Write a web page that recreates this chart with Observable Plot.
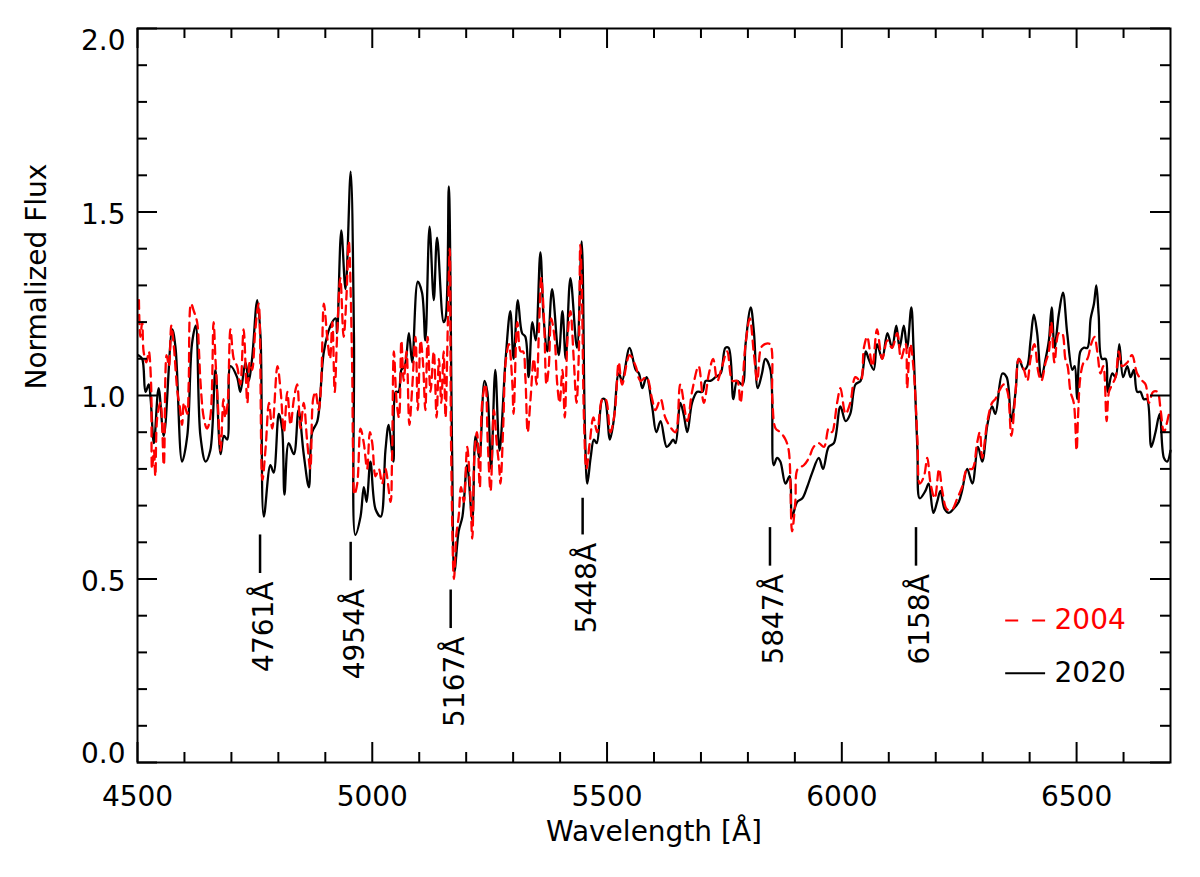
<!DOCTYPE html>
<html><head><meta charset="utf-8">
<script src="https://cdn.jsdelivr.net/npm/d3@7"></script>
<script src="https://cdn.jsdelivr.net/npm/@observablehq/plot@0.6"></script>
<style>body{margin:0;background:#fff} svg{display:block}</style>
</head><body><div id="chart"></div>
<script>
// ---- 2020 spectrum (solid black) ----
const wl2020 = [4502,4510,4517,4524,4528,4535,4545,4556,4574,4581,4595,4606,4616,4624,4634,4645,4655,4666,4677,4684,4691,4698,4712,4719,4730,4737,4744,4755,4762,4769,4783,4790,4801,4808,4813,4822,4833,4843,4854,4865,4872,4883,4897,4911,4922,4925,4934,4943,4954,4961,4964,4975,4982,4988,4996,5007,5018,5028,5035,5045,5050,5056,5062,5069,5078,5085,5097,5106,5113,5122,5131,5138,5152,5156,5163,5170,5175,5184,5192,5202,5213,5220,5228,5239,5245,5253,5262,5271,5284,5294,5301,5310,5319,5326,5333,5341,5348,5358,5365,5373,5383,5397,5405,5412,5422,5436,5446,5453,5458,5465,5472,5478,5490,5495,5506,5514,5525,5532,5548,5561,5568,5575,5584,5596,5605,5614,5627,5635,5641,5646,5656,5663,5671,5681,5692,5703,5710,5720,5731,5742,5752,5759,5769,5777,5788,5795,5806,5813,5821,5830,5837,5848,5855,5862,5869,5880,5889,5894,5905,5916,5926,5937,5951,5960,5972,5983,5997,6008,6018,6029,6040,6051,6057,6068,6075,6086,6097,6107,6116,6123,6132,6139,6148,6153,6161,6166,6178,6185,6195,6203,6210,6219,6228,6237,6249,6256,6267,6278,6290,6299,6310,6320,6327,6342,6351,6361,6370,6377,6388,6395,6402,6409,6416,6425,6434,6441,6447,6453,6462,6471,6480,6491,6496,6501,6508,6515,6523,6530,6537,6542,6547,6554,6562,6566,6576,6583,6591,6599,6608,6615,6622,6629,6636,6643,6650,6659,6668,6677,6686,6693,6700];
const flux2020 = [1.11,1.10,1.01,1.03,0.99,0.87,1.02,0.89,1.18,1.13,0.82,0.89,1.14,1.19,0.89,0.82,0.85,1.07,0.84,0.89,0.88,1.08,1.05,1.01,1.09,1.04,1.10,1.26,1.16,0.67,0.81,0.79,0.95,0.91,0.73,0.87,0.84,0.96,0.84,0.75,0.90,0.93,1.12,1.19,1.21,1.17,1.45,1.29,1.61,1.16,0.62,0.67,0.75,0.71,0.82,0.69,0.67,0.85,0.92,0.82,1.01,1.01,1.07,1.08,1.17,1.09,1.31,1.28,1.15,1.46,1.26,1.43,1.20,1.21,1.57,0.85,0.52,0.63,0.67,0.81,0.66,0.89,0.83,1.04,1.01,0.80,1.07,0.85,1.10,1.23,1.10,1.26,1.17,1.16,1.05,1.20,1.15,1.39,1.21,1.12,1.29,1.11,1.23,1.10,1.32,1.13,1.42,0.90,0.76,0.83,0.88,0.87,0.99,0.99,0.88,0.93,1.06,1.04,1.13,1.07,1.06,1.02,1.05,0.97,0.90,0.93,0.86,0.87,0.88,0.87,0.98,0.95,0.90,0.98,1.01,1.01,1.04,1.04,1.05,1.06,1.13,1.13,0.99,1.04,1.03,1.14,1.24,1.17,1.02,1.06,1.10,1.07,0.81,0.83,0.82,0.76,0.78,0.67,0.71,0.72,0.75,0.79,0.83,0.80,0.86,0.87,0.97,0.93,0.95,1.03,1.04,1.12,1.10,1.07,1.14,1.10,1.17,1.13,1.19,1.13,1.19,1.13,1.24,1.12,0.85,0.72,0.74,0.76,0.68,0.71,0.74,0.69,0.68,0.69,0.71,0.74,0.80,0.76,0.86,0.82,0.92,0.97,0.95,1.06,1.05,0.93,1.01,1.10,1.07,1.08,1.15,1.22,1.17,1.05,1.10,1.15,1.24,1.13,1.22,1.28,1.17,1.07,1.08,0.99,1.12,1.13,1.13,1.21,1.25,1.30,1.22,1.10,1.10,1.01,1.06,1.05,1.14,1.05,1.08,1.05,1.07,1.01,1.01,0.99,0.99,0.86,0.90,0.95,0.83,0.82,0.85];

// ---- 2004 spectrum (dashed red) ----
const wl2004 = [4503,4506,4510,4513,4519,4524,4529,4531,4535,4538,4542,4549,4556,4562,4567,4572,4577,4585,4590,4595,4599,4606,4609,4614,4620,4627,4631,4634,4641,4648,4655,4662,4666,4671,4677,4683,4687,4692,4698,4705,4712,4719,4726,4734,4739,4744,4751,4758,4766,4773,4780,4787,4798,4805,4812,4819,4826,4833,4840,4847,4854,4861,4868,4874,4879,4886,4891,4897,4904,4910,4915,4920,4925,4932,4939,4945,4950,4957,4959,4962,4968,4975,4982,4989,4995,5000,5007,5014,5021,5028,5039,5042,5046,5052,5057,5062,5067,5073,5079,5085,5092,5097,5103,5108,5113,5118,5124,5131,5137,5142,5147,5152,5156,5161,5165,5168,5174,5179,5184,5189,5195,5202,5208,5213,5218,5223,5229,5234,5241,5246,5252,5259,5265,5270,5273,5279,5284,5291,5298,5301,5309,5316,5321,5326,5331,5337,5344,5350,5355,5360,5366,5371,5376,5381,5388,5394,5399,5405,5410,5416,5422,5429,5435,5440,5443,5446,5451,5456,5463,5471,5479,5490,5497,5507,5516,5525,5532,5548,5561,5571,5584,5596,5603,5614,5624,5637,5646,5656,5671,5681,5695,5706,5717,5726,5735,5745,5756,5767,5777,5784,5795,5804,5813,5820,5828,5836,5847,5852,5859,5869,5880,5887,5894,5901,5906,5919,5930,5940,5951,5962,5972,5979,5990,5997,6008,6018,6029,6040,6047,6054,6065,6075,6086,6097,6107,6118,6126,6136,6139,6146,6153,6161,6166,6175,6182,6189,6198,6207,6214,6224,6235,6246,6256,6267,6278,6288,6294,6299,6310,6320,6327,6334,6345,6353,6361,6370,6377,6388,6395,6402,6410,6419,6425,6434,6441,6446,6453,6462,6469,6476,6481,6487,6494,6500,6503,6508,6515,6523,6531,6538,6544,6551,6557,6564,6569,6576,6583,6590,6597,6608,6618,6629,6640,6647,6654,6663,6672,6679,6686,6697,6700];
const flux2004 = [1.26,1.16,1.20,1.12,1.09,1.12,1.03,0.80,0.85,0.78,0.94,0.98,0.81,1.11,1.08,1.19,1.14,1.01,0.97,0.92,0.98,0.95,1.03,1.25,1.23,1.20,1.12,1.04,0.94,0.91,0.94,1.20,1.10,0.98,0.85,0.99,0.94,0.98,1.18,1.10,1.08,1.03,1.18,0.98,1.09,1.07,1.18,1.25,0.77,0.86,0.98,0.91,1.08,1.01,0.90,1.01,0.92,0.99,1.03,0.91,0.98,0.88,0.80,0.99,1.01,0.96,1.03,1.25,1.16,1.10,1.20,1.01,1.16,1.32,1.16,1.27,1.42,1.09,0.85,0.73,0.76,0.91,0.87,0.80,0.90,0.87,0.78,0.80,0.76,0.80,0.71,0.82,1.12,0.98,0.94,1.15,1.04,1.12,0.92,1.02,1.16,0.96,1.15,1.09,0.96,1.16,1.01,1.12,0.94,1.10,0.98,1.12,0.94,1.20,1.40,0.85,0.50,0.62,0.67,0.75,0.71,0.86,0.76,0.61,0.85,0.90,0.75,0.98,1.03,0.87,0.74,0.96,0.87,0.81,0.76,0.92,1.09,1.14,1.04,0.95,1.20,1.12,1.12,1.05,0.90,0.99,1.10,1.03,1.18,1.32,1.20,1.03,1.08,1.21,1.16,1.03,0.98,1.07,0.94,1.16,1.23,1.10,0.98,1.12,1.41,1.31,0.93,0.80,0.87,0.94,0.90,0.99,0.99,0.90,0.95,1.09,1.03,1.11,1.08,1.04,1.05,0.99,0.96,0.99,0.94,0.91,0.90,1.03,0.93,1.01,1.08,0.98,1.06,1.10,1.04,1.08,1.12,1.04,1.04,0.98,1.14,1.21,1.11,1.04,1.13,1.14,1.14,0.99,0.91,0.90,0.88,0.85,0.63,0.71,0.80,0.81,0.83,0.86,0.87,0.86,0.91,0.90,0.98,1.02,0.95,0.98,1.05,1.04,1.13,1.16,1.08,1.18,1.10,1.15,1.13,1.17,1.10,1.14,1.02,1.14,1.07,0.88,0.76,0.78,0.83,0.76,0.72,0.80,0.74,0.69,0.69,0.72,0.75,0.80,0.80,0.87,0.90,0.83,0.93,0.98,0.99,1.01,1.03,1.01,0.89,1.01,1.10,1.07,1.04,1.10,1.14,1.06,1.04,1.09,1.12,1.20,1.09,1.17,1.17,1.10,1.08,1.01,0.98,0.85,0.94,1.05,1.09,1.10,1.14,1.16,1.12,1.06,1.08,0.93,1.01,1.03,1.05,1.12,1.08,1.09,1.11,1.06,1.04,1.03,0.98,1.01,1.01,0.96,0.90,0.95,0.96];

// ---- axes ----
const xMajorTicks = [4500, 5000, 5500, 6000, 6500];
const xMinorTicks = [4600, 4700, 4800, 4900, 5100, 5200, 5300, 5400, 5600, 5700, 5800, 5900, 6100, 6200, 6300, 6400, 6600];
const yMajorTicks = [0.0, 0.5, 1.0, 1.5, 2.0];
const yMinorTicks = [0.1, 0.2, 0.3, 0.4, 0.6, 0.7, 0.8, 0.9, 1.1, 1.2, 1.3, 1.4, 1.6, 1.7, 1.8, 1.9];

// ---- marked absorption features ----
const lineWavelengths = [4761, 4954, 5167, 5448, 5847, 6158];
const lineTop = [0.62, 0.60, 0.47, 0.72, 0.64, 0.64];
const lineBottom = [0.515, 0.495, 0.365, 0.62, 0.535, 0.535];

// ---- legend ----
const legendYears = ["2004", "2020"];
const legendColors = ["#ff0000", "#000000"];
const legendDash = ["13,14", null];
const legendFlux = [0.387, 0.243];

const W = 1200, H = 877, mL = 137, mR = 30, mT = 28, mB = 115;
const xDom = [4500, 6700], yDom = [0, 2];
const xpp = (xDom[1] - xDom[0]) / (W - mL - mR);   // data units per pixel
const ypp = (yDom[1] - yDom[0]) / (H - mT - mB);
const MAJ = 20, MIN = 10;

const s2020 = wl2020.map((w, i) => ({w, f: flux2020[i]}));
const s2004 = wl2004.map((w, i) => ({w, f: flux2004[i]}));
const annot = lineWavelengths.map((w, i) => ({w, top: lineTop[i], bottom: lineBottom[i]}));
const legend = legendYears.map((y, i) => ({y, c: legendColors[i], d: legendDash[i], f: legendFlux[i]}));

const font = "DejaVu Sans";
const fmt = d3.format(".1f");

const tickMarks = [];
for (const [ticks, len] of [[xMajorTicks, MAJ], [xMinorTicks, MIN]]) {
  tickMarks.push(Plot.ruleX(ticks, {x: d => d, y1: yDom[0], y2: yDom[0] + len * ypp, stroke: "black", strokeWidth: 2}));
  tickMarks.push(Plot.ruleX(ticks, {x: d => d, y1: yDom[1], y2: yDom[1] - len * ypp, stroke: "black", strokeWidth: 2}));
}
for (const [ticks, len] of [[yMajorTicks, MAJ], [yMinorTicks, MIN]]) {
  tickMarks.push(Plot.ruleY(ticks, {y: d => d, x1: xDom[0], x2: xDom[0] + len * xpp, stroke: "black", strokeWidth: 2}));
  tickMarks.push(Plot.ruleY(ticks, {y: d => d, x1: xDom[1], x2: xDom[1] - len * xpp, stroke: "black", strokeWidth: 2}));
}

const chart = Plot.plot({
  width: W, height: H,
  marginLeft: mL, marginRight: mR, marginTop: mT, marginBottom: mB,
  x: {domain: xDom, axis: null},
  y: {domain: yDom, axis: null},
  style: {fontFamily: font, background: "white", color: "black"},
  marks: [
    Plot.line(s2020, {x: "w", y: "f", stroke: "black", strokeWidth: 2.3, curve: "catmull-rom"}),
    Plot.line(s2004, {x: "w", y: "f", stroke: "#ff0000", strokeWidth: 2.3, strokeDasharray: "9,6", curve: "catmull-rom"}),
    Plot.ruleX(annot, {x: "w", y1: "bottom", y2: "top", stroke: "black", strokeWidth: 2.5}),
    Plot.text(annot, {x: "w", y: "bottom", text: d => d.w + "Å", rotate: -90, textAnchor: "end", dx: 4, dy: 8, fontSize: 28, fill: "black"}),
    ...tickMarks,
    Plot.frame({stroke: "black", strokeWidth: 2}),
    // x tick labels
    Plot.text(xMajorTicks, {x: d => d, y: yDom[0], text: d => String(d), dy: 35, fontSize: 28, fill: "black"}),
    // y tick labels
    Plot.text(yMajorTicks.filter(d => d > yDom[0] && d < yDom[1]), {x: xDom[0], y: d => d, text: fmt, textAnchor: "end", dx: -12, dy: 3, fontSize: 28, fill: "black"}),
    Plot.text([yDom[1]], {x: xDom[0], y: d => d, text: fmt, textAnchor: "end", lineAnchor: "top", dx: -12, dy: 2, fontSize: 28, fill: "black"}),
    Plot.text([yDom[0]], {x: xDom[0], y: d => d, text: fmt, textAnchor: "end", lineAnchor: "bottom", dx: -12, dy: 0, fontSize: 28, fill: "black"}),
    // axis titles
    Plot.text(["Wavelength [Å]"], {frameAnchor: "bottom", text: d => d, dy: 78, fontSize: 28, fill: "black"}),
    Plot.text(["Normalized Flux"], {frameAnchor: "left", text: d => d, rotate: -90, dx: -100, dy: -6, fontSize: 28, fill: "black"}),
    // legend
    ...legend.map(l => Plot.ruleY([l], {y: "f", x1: 6349, x2: 6434, stroke: l.c, strokeWidth: 2, strokeDasharray: l.d})),
    Plot.text(legend, {x: 6453, y: "f", text: "y", fill: "c", textAnchor: "start", fontSize: 28})
  ]
});
document.getElementById("chart").appendChild(chart);
</script>
</body></html>
